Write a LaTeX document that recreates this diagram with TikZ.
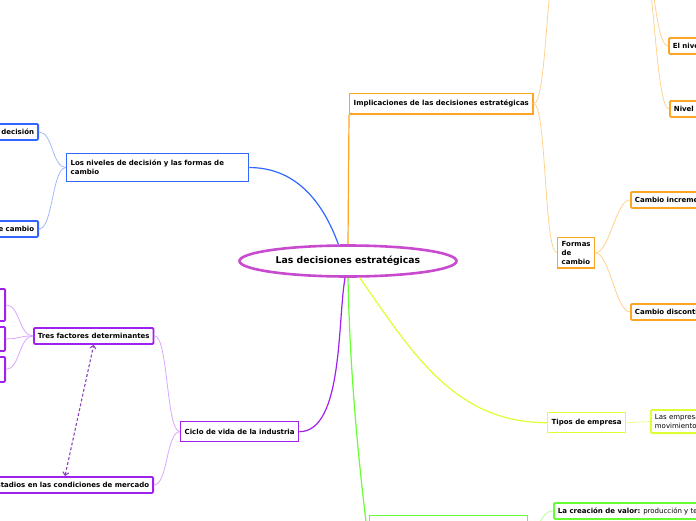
\documentclass[tikz,border=0pt]{standalone}
\usepackage{fontspec}
\setmainfont{DejaVu Sans}
\usetikzlibrary{arrows.meta, shapes.geometric}
\definecolor{coreedge}{HTML}{C84BCF}
\definecolor{blueedge}{HTML}{3366FF}
\definecolor{bluesoft}{HTML}{9DB5FF}
\definecolor{purpleedge}{HTML}{A020F0}
\definecolor{purplesoft}{HTML}{D7A2FF}
\definecolor{dashedge}{HTML}{8A44B8}
\definecolor{orangeedge}{HTML}{FFA526}
\definecolor{orangesoft}{HTML}{FFD08A}
\definecolor{limeedge}{HTML}{DDFF33}
\definecolor{limesoft}{HTML}{EAFF88}
\definecolor{greenedge}{HTML}{66FF33}
\definecolor{greensoft}{HTML}{B3FF99}

\begin{document}
\begin{tikzpicture}[x=1pt, y=-1pt,
  core/.style={ellipse, draw=coreedge, line width=2.6pt, fill=white,
               minimum width=217pt, minimum height=31pt, inner sep=0pt,
               font=\fontsize{9.3}{11}\selectfont\bfseries},
  topic/.style={rectangle, draw=#1, line width=1.4pt, fill=white, minimum height=20pt,
                inner xsep=4pt, inner ysep=6.5pt, align=left, anchor=north west,
                font=\fontsize{7}{9}\selectfont\bfseries},
  leaf/.style={rectangle, draw=#1, line width=1.8pt, rounded corners=1.2pt, fill=white,
               minimum height=16pt, inner xsep=4pt, inner ysep=4.5pt, align=left,
               anchor=north west, font=\fontsize{7}{9}\selectfont\bfseries},
  trunk/.style={draw=#1, line width=1.2pt},
  twig/.style={draw=#1, line width=0.75pt},
  link/.style={draw=dashedge, line width=1.1pt, dash pattern=on 3pt off 2pt,
               {Straight Barb[length=3pt,width=6pt]}-{Straight Barb[length=3pt,width=6pt]}},
]
\useasboundingbox (0,0) rectangle (696,520);
\clip (0,0) rectangle (696,520);
% ================= centre =================================================
\node[core] (core) at (348,261) {Las decisiones estratégicas};
% ================= blue: niveles de decision ==============================
\node[topic=blueedge, text width=174pt] (niveles) at (66,153) {Los niveles de decisión y las formas de cambio};
\node[leaf=blueedge, anchor=north east, text width=72pt, align=right] (decision) at (39,123) {decisión};
\node[leaf=blueedge, anchor=north east, text width=72pt, align=right] (formascambio) at (39,220) {de cambio};
\draw[trunk=blueedge] (core.120) to[out=110, in=0] (niveles.east);
\draw[twig=bluesoft] (niveles.west) .. controls +(-14,0) and +(14,0) .. (decision.east);
\draw[twig=bluesoft] (niveles.west) .. controls +(-14,0) and +(14,0) .. (formascambio.east);
% ================= purple: ciclo de vida ==================================
\node[topic=purpleedge] (ciclo) at (180,421) {Ciclo de vida de la industria};
\node[leaf=purpleedge] (tres) at (33,327) {Tres factores determinantes};
\node[leaf=purpleedge, anchor=north east] (estadios) at (154,476) {Estadios en las condiciones de mercado};
\node[leaf=purpleedge, anchor=north east, minimum width=40pt, minimum height=32pt] (factor1) at (6,288) {};
\node[leaf=purpleedge, anchor=north east, minimum width=40pt, minimum height=24pt] (factor2) at (6,326) {};
\node[leaf=purpleedge, anchor=north east, minimum width=40pt, minimum height=25pt] (factor3) at (6,356) {};
\draw[trunk=purpleedge] (core.260) to[out=-100, in=0, looseness=0.7] (ciclo.east);
\draw[twig=purplesoft] (ciclo.west) .. controls +(-14,0) and +(14,0) .. (tres.east);
\draw[twig=purplesoft] (ciclo.west) .. controls +(-14,0) and +(14,0) .. (estadios.east);
\foreach \f in {factor1, factor2, factor3}
  \draw[twig=purplesoft] (tres.west) .. controls +(-14,0) and +(14,0) .. (\f.east);
\draw[link] ([xshift=-89pt]estadios.north east) -- (tres.south);
% ================= orange: implicaciones ==================================
\node[topic=orangeedge] (impl) at (349,93) {Implicaciones de las decisiones estratégicas};
\node[topic=orangeedge, inner ysep=3.5pt] (formas) at (557,237) {Formas\\de\\cambio};
\node[leaf=orangeedge, text width=90pt] (incremental) at (630,191) {Cambio incremental};
\node[leaf=orangeedge, text width=90pt] (discontinuo) at (630,303) {Cambio discontinuo};
\node[leaf=orangeedge, text width=40pt] (elnivel) at (668,37) {El nivel};
\node[leaf=orangeedge, text width=40pt] (nivel) at (669,100) {Nivel};
\coordinate (implup) at (560,-50);
\coordinate (nivelhub) at (640,-50);
\draw[trunk=orangeedge] (core.north) -- (impl.south west);
\draw[twig=orangesoft] (impl.east) .. controls +(14,0) and +(-14,0) .. (implup);
\draw[twig=orangesoft] (impl.east) .. controls +(13,0) and +(-13,0) .. (formas.west);
\draw[twig=orangesoft] (formas.east) .. controls +(14,0) and +(-14,0) .. (incremental.west);
\draw[twig=orangesoft] (formas.east) .. controls +(14,0) and +(-14,0) .. (discontinuo.west);
\draw[twig=orangesoft] (nivelhub) .. controls +(14,0) and +(-14,0) .. (elnivel.west);
\draw[twig=orangesoft] (nivelhub) .. controls +(14,0) and +(-14,0) .. (nivel.west);
% ================= lime: tipos de empresa =================================
\node[topic=limeedge] (tipos) at (547,412) {Tipos de empresa};
\node[leaf=limeedge, text width=80pt, font=\fontsize{7}{9}\selectfont] (empresas) at (650,409) {Las empresas\\movimientos};
\draw[trunk=limeedge] (core.305) to[out=-55, in=180] (tipos.west);
\draw[twig=limesoft] (tipos.east) -- (empresas.west);
% ================= green: creacion de valor ===============================
\node[topic=greenedge, minimum width=158pt, minimum height=30pt] (valor) at (369,515) {};
\node[leaf=greenedge, font=\fontsize{7}{9}\selectfont] (creacion) at (553,502) {\textbf{La creación de valor:} producción y tecnología};
\draw[trunk=greenedge] (core.south) .. controls +(2,100) and +(-10,-80) .. (valor.south west);
\draw[twig=greensoft] (valor.east) .. controls +(13,0) and +(-13,0) .. (creacion.west);
\end{tikzpicture}
\end{document}
